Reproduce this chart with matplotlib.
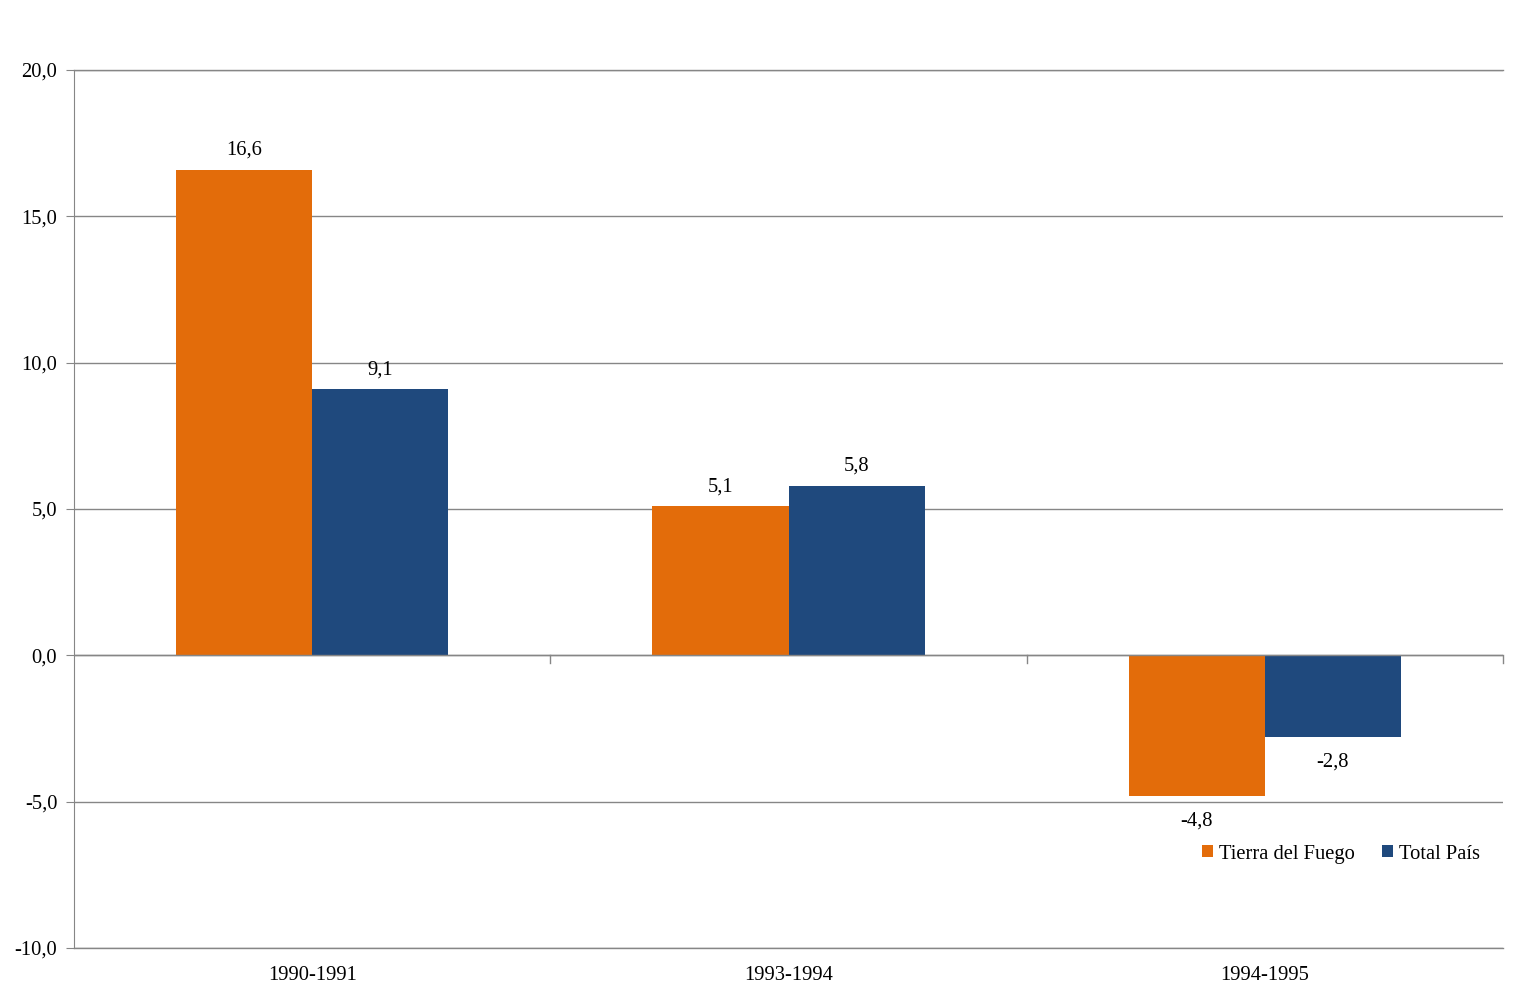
import matplotlib
matplotlib.use("Agg")
import matplotlib.pyplot as plt
import numpy as np

categories = ["1990-1991", "1993-1994", "1994-1995"]
series_names = ["Tierra del Fuego", "Total País"]
tierra = [16.6, 5.1, -4.8]
total = [9.1, 5.8, -2.8]
yticks = [-10, -5, 0, 5, 10, 15, 20]

colors = ["#E36C0A", "#1F497D"]
grid_c = "#868686"

plt.rcParams["font.family"] = ["Liberation Serif", "DejaVu Serif"]
fs = 14.8

fig = plt.figure(figsize=(15.27, 9.98), dpi=100)
ax = fig.add_axes([74/1527, 1-948/998, (1503-74)/1527, (948-70)/998])

x = np.arange(len(categories))
w = 0.2857
fmt = lambda v: f"{v:.1f}".replace(".", ",")

for i, (vals, name, c) in enumerate(zip([tierra, total], series_names, colors)):
    xs = x + (i - 0.5) * w
    ax.bar(xs, vals, width=w, color=c, label=name, zorder=3)
    for xx, v in zip(xs, vals):
        off = 7 if v >= 0 else -11
        ax.annotate(fmt(v), (xx, v), xytext=(0, off), textcoords="offset points",
                    ha="center", va="bottom" if v >= 0 else "top", fontsize=fs)

ax.set_xlim(-0.5, len(categories) - 0.5)
ax.set_ylim(-10, 20)
ax.set_yticks(yticks)
ax.set_yticklabels([fmt(v) for v in yticks], fontsize=fs)
ax.yaxis.grid(True, color=grid_c, lw=1, zorder=0)
ax.set_xticks(x)
ax.set_xticklabels(categories, fontsize=fs)
ax.tick_params(axis="x", length=0, pad=13)
ax.tick_params(axis="y", length=6, color=grid_c, pad=6)

for s in ["top", "right", "bottom"]:
    ax.spines[s].set_visible(False)
ax.spines["left"].set_color(grid_c)
ax.axhline(0, color=grid_c, lw=1, zorder=4)
ax.axhline(-10, color=grid_c, lw=1, zorder=4, clip_on=False)
ax.axhline(20, color=grid_c, lw=1, zorder=4, clip_on=False)

# category boundary ticks on the zero line
for b in np.arange(0.5, len(categories), 1.0):
    ax.plot([b, b], [0, -0.27], color=grid_c, lw=1, zorder=4, clip_on=False)

leg = ax.legend(loc="center right", bbox_to_anchor=(0.99, 0.107), ncol=2, frameon=False,
                fontsize=fs, handlelength=0.55, handleheight=0.55, handletextpad=0.3,
                columnspacing=1.3, borderaxespad=0)

fig.savefig("out.png", dpi=100)
